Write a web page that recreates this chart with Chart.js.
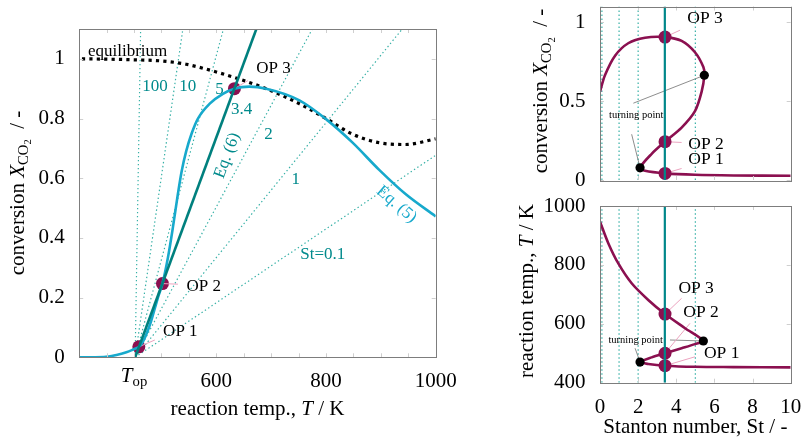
<!DOCTYPE html>
<html><head><meta charset="utf-8">
<script src="https://cdn.jsdelivr.net/npm/chart.js@4.4.0/dist/chart.umd.min.js"></script>
<style>
html,body{margin:0;padding:0;background:#fff;width:809px;height:444px;overflow:hidden}
.box{position:absolute}
</style></head><body>
<div class="box" style="left:0;top:0"><canvas id="c1" width="490" height="444"></canvas></div>
<div class="box" style="left:500px;top:0"><canvas id="c2" width="309" height="195"></canvas></div>
<div class="box" style="left:500px;top:195px"><canvas id="c3" width="309" height="249"></canvas></div>
<script>
// ---------------- DATA ----------------
// Left chart: conversion vs reaction temperature
const T0 = 452;                                   // common origin of the St lines (T_op)
const stNamesLeft = ['100', '10', '5', '2', '1', 'St=0.1'];
const stEndT = [462, 539, 613, 775, 939, 1000];
const stEndX = [1.1, 1.1, 1.1, 1.1, 1.1, 0.677];
const eq6T = [452, 673];
const eq6X = [0, 1.1];
const eq5T = [350, 395, 418, 436, 446, 452, 458.7, 466, 473, 480, 488, 495, 501.8, 512, 521, 530, 537, 545, 555, 566.5, 588, 612, 633, 660, 691, 751.5, 800, 848, 897, 945, 1000];
const eq5X = [0, 0.001, 0.008, 0.017, 0.024, 0.029, 0.035, 0.052, 0.080, 0.115, 0.165, 0.208, 0.247, 0.336, 0.437, 0.548, 0.625, 0.69, 0.75, 0.80, 0.85, 0.883, 0.90, 0.907, 0.90, 0.861, 0.798, 0.72, 0.628, 0.547, 0.472];
const eqT = [355, 400, 446, 500, 545, 600, 642, 691, 751, 800, 848, 897, 945, 1000];
const eqX = [1.0, 0.999, 0.997, 0.993, 0.982, 0.956, 0.932, 0.90, 0.85, 0.80, 0.748, 0.719, 0.713, 0.732];
const opT = [458.7, 501.8, 633];
const opX = [0.035, 0.247, 0.90];
const opLeadT = [488, 530, 657.5];
const opLeadX = [0.058, 0.245, 0.927];
const leftXTicks = [350, 400, 450, 500, 550, 600, 650, 700, 750, 800, 850, 900, 950, 1000];
const leftXLabeled = [600, 800, 1000];
const leftYTicks = [0, 0.2, 0.4, 0.6, 0.8, 1];

// Right charts: vs Stanton number
const stVLines = [0.1, 1, 2, 5];
const stDesign = 3.4;
const stX = [0, 0.26, 0.79, 1.48, 2.36, 3.41, 4.28, 4.98, 5.42, 5.47, 5.33, 4.98, 4.28, 3.41, 2.71, 2.10, 2.36, 3.41, 4.98, 7, 10];
const xSt = [0.56, 0.664, 0.788, 0.867, 0.902, 0.906, 0.882, 0.81, 0.716, 0.664, 0.56, 0.436, 0.332, 0.243, 0.166, 0.077, 0.058, 0.042, 0.033, 0.029, 0.027];
const stT = [0, 0.44, 0.96, 1.66, 2.53, 3.41, 4.46, 5.42, 4.98, 4.28, 3.41, 2.71, 2.10, 2.53, 3.41, 4.98, 7, 10];
const tSt = [947, 873, 805, 737.6, 681, 633, 585, 541.6, 531, 517, 500, 486, 470, 463.5, 457.7, 454, 453, 452];
const opSt = [3.41, 3.41, 3.41];
const opXr = [0.042, 0.243, 0.906];
const opTr = [457.7, 500, 633];
const tpSt = [5.47, 2.10];
const tpX = [0.664, 0.077];
const tpStT = [5.42, 2.10];
const tpT = [541.6, 470];
const opLeadStTop = [4.28, 4.28, 4.2];
const opLeadXTop = [0.073, 0.238, 0.95];
const opLeadStBot = [4.98, 4.72, 4.28];
const opLeadTBot = [488, 601.7, 686.6];
const tpLeadStTop = [1.75, 1.66];
const tpLeadXTop = [0.487, 0.29];
const tpLeadStBot = [3.67, 1.84];
const tpLeadTBot = [545, 517];
const rightXTicks = [0, 2, 4, 6, 8, 10];
const topYTicks = [0, 0.5, 1];
const botYTicks = [400, 600, 800, 1000];

// ---------------- STYLE ----------------
const FONT = '"Liberation Serif","Times New Roman",serif';
const TEAL = '#00878a', TEAL_DOT = '#36b0a6', CYAN = '#17a9cc', PURPLE = '#8b1050', PINK = '#eba3bf', TEAL_TXT = '#008a8c';
Chart.defaults.font.family = FONT;
Chart.defaults.color = '#000';

function pts(xs, ys) { return xs.map((x, i) => ({x: x, y: ys[i]})); }
function seg(x1, y1, x2, y2, color, width, dash, order) {
  return {data: [{x: x1, y: y1}, {x: x2, y: y2}], borderColor: color, borderWidth: width,
    borderDash: dash || [], pointRadius: 0, fill: false, tension: 0, order: order};
}

function drawRich(ctx, parts, x, y, o) {
  if (typeof parts === 'string') parts = [{t: parts}];
  const size = o.size || 17;
  const fontOf = p => (p.i ? 'italic ' : '') + (p.sub === 1 ? size * 0.7 : p.sub === 2 ? size * 0.5 : size) + 'px ' + FONT;
  const dyOf = p => p.sub === 1 ? size * 0.2 : p.sub === 2 ? size * 0.36 : 0;
  ctx.save();
  let total = 0;
  const w = parts.map(p => { ctx.font = fontOf(p); const m = ctx.measureText(p.t).width; total += m; return m; });
  ctx.translate(x, y);
  if (o.rot) ctx.rotate(o.rot * Math.PI / 180);
  let cx = o.align === 'left' ? 0 : o.align === 'right' ? -total : -total / 2;
  const by = o.vmid ? size * 0.33 : 0;
  ctx.fillStyle = o.color || '#000';
  ctx.textBaseline = 'alphabetic';
  ctx.textAlign = 'left';
  parts.forEach((p, i) => { ctx.font = fontOf(p); ctx.fillText(p.t, cx, by + dyOf(p)); cx += w[i]; });
  ctx.restore();
}

const deco = {
  id: 'deco',
  afterDatasetsDraw(chart, args, o) {
    const ctx = chart.ctx, ca = chart.chartArea, xs = chart.scales.x, ys = chart.scales.y;
    ctx.save();
    ctx.strokeStyle = '#cfcfcf'; ctx.lineWidth = 1;
    ctx.beginPath();
    xs.ticks.forEach(t => {
      const p = Math.round(xs.getPixelForValue(t.value)) + 0.5;
      ctx.moveTo(p, ca.bottom); ctx.lineTo(p, ca.bottom - 4);
      ctx.moveTo(p, ca.top); ctx.lineTo(p, ca.top + 4);
    });
    ys.ticks.forEach(t => {
      const p = Math.round(ys.getPixelForValue(t.value)) + 0.5;
      ctx.moveTo(ca.left, p); ctx.lineTo(ca.left + 4, p);
      ctx.moveTo(ca.right, p); ctx.lineTo(ca.right - 4, p);
    });
    ctx.stroke();
    ctx.strokeStyle = '#7d7d7d'; ctx.lineWidth = 1;
    ctx.strokeRect(Math.round(ca.left) + 0.5, Math.round(ca.top) + 0.5, Math.round(ca.right - ca.left), Math.round(ca.bottom - ca.top));
    (o.texts || []).forEach(t => drawRich(ctx, t.parts, xs.getPixelForValue(t.x), ys.getPixelForValue(t.y), t));
    (o.xLabels || []).forEach(t => drawRich(ctx, t.parts, xs.getPixelForValue(t.x), ca.bottom + t.dy, t));
    (o.titles || []).forEach(t => drawRich(ctx, t.parts, t.px, t.py, t));
    ctx.restore();
  }
};

function axes(xmin, xmax, xt, xLab, ymin, ymax, yt, yLab, yW, xH) {
  return {
    x: {type: 'linear', min: xmin, max: xmax,
      afterBuildTicks: s => { s.ticks = xt.map(v => ({value: v})); },
      ticks: {display: xLab !== null, font: {size: 21}, padding: 4, maxRotation: 0, autoSkip: false,
        callback: v => (xLab && xLab.includes(v)) ? String(v) : ''},
      grid: {display: false}, border: {display: false},
      afterFit: s => { s.height = xH; s.paddingLeft = 0; s.paddingRight = 0; }},
    y: {type: 'linear', min: ymin, max: ymax,
      afterBuildTicks: s => { s.ticks = yt.map(v => ({value: v})); },
      ticks: {font: {size: 21}, padding: 6.5, autoSkip: false, callback: v => String(v)},
      grid: {display: false}, border: {display: false},
      afterFit: s => { s.width = yW; s.paddingTop = 0; s.paddingBottom = 0; }}
  };
}
const base = {responsive: false, animation: false, events: [], devicePixelRatio: 1};

// ---------------- LEFT CHART ----------------
const leftSets = [];
leftSets.push({data: pts(eq6T, eq6X), borderColor: '#00807e', borderWidth: 2.6, pointRadius: 0, tension: 0, order: 1});
leftSets.push({data: pts(eq5T, eq5X), borderColor: CYAN, borderWidth: 2.6, pointRadius: 0, cubicInterpolationMode: 'monotone', order: 2});
leftSets.push({data: pts(eqT, eqX), borderColor: '#000', borderWidth: 3.2, borderDash: [3.2, 4.2], pointRadius: 0, cubicInterpolationMode: 'monotone', order: 3});
opT.forEach((t, i) => leftSets.push(seg(t, opX[i], opLeadT[i], opLeadX[i], PINK, 1, null, 5)));
leftSets.push({data: pts(opT, opX), showLine: false, pointRadius: 6.5, pointBackgroundColor: PURPLE, pointBorderWidth: 0, order: 6});
stEndT.forEach((t, i) => leftSets.push(seg(T0, 0, t, stEndX[i], TEAL_DOT, 1.2, [1.4, 2.6], 8)));

const stLabelPos = [[488, 0.911], [548, 0.911], [606, 0.90], [695, 0.75], [745, 0.60], [794, 0.349]];
const leftTexts = [
  {x: 366, y: 1.028, parts: 'equilibrium', size: 17, align: 'left', vmid: true},
  {x: 646, y: 0.834, parts: '3.4', size: 17, vmid: true, color: TEAL_TXT},
  {x: 618, y: 0.677, parts: 'Eq. (6)', size: 17, vmid: true, rot: -69.7, color: TEAL_TXT},
  {x: 930, y: 0.515, parts: 'Eq. (5)', size: 17, vmid: true, rot: 41, color: CYAN},
  {x: 672.7, y: 0.971, parts: 'OP 3', size: 17, align: 'left', vmid: true},
  {x: 545.5, y: 0.242, parts: 'OP 2', size: 17, align: 'left', vmid: true},
  {x: 503, y: 0.0916, parts: 'OP 1', size: 17, align: 'left', vmid: true}
];
stNamesLeft.forEach((n, i) => leftTexts.push({x: stLabelPos[i][0], y: stLabelPos[i][1], parts: n, size: 17, vmid: true, color: TEAL_TXT}));

new Chart(document.getElementById('c1'), {
  type: 'line',
  data: {datasets: leftSets},
  options: Object.assign({}, base, {
    layout: {padding: {top: 29, right: 54.3, left: 0, bottom: 0}},
    scales: axes(350, 1000, leftXTicks, leftXLabeled, 0, 1.1, leftYTicks, null, 79.2, 86.7),
    plugins: {legend: {display: false}, tooltip: {enabled: false},
      deco: {
        texts: leftTexts,
        xLabels: [{x: 450, dy: 24.2, parts: [{t: 'T', i: true}, {t: 'op', sub: 1}], size: 21}],
        titles: [
          {px: 257.5, py: 415, size: 21, parts: [{t: 'reaction temp., '}, {t: 'T', i: true}, {t: ' / K'}]},
          {px: 23.5, py: 193, size: 21, rot: -90, parts: [{t: 'conversion '}, {t: 'X', i: true}, {t: 'CO', sub: 1}, {t: '2', sub: 2}, {t: '  / -'}]}
        ]}}
  }),
  plugins: [deco]
});

// ---------------- RIGHT CHARTS ----------------
function rightSets(curveX, curveY, opY, tpXs, tpYs, leadX, leadY, tLeadX, tLeadY, ymin, ymax) {
  const s = [];
  s.push(seg(stDesign, ymin, stDesign, ymax, TEAL, 2.2, null, 1));
  s.push({data: pts(tpXs, tpYs), showLine: false, pointRadius: 4.6, pointBackgroundColor: '#000', pointBorderWidth: 0, order: 2});
  s.push({data: pts(opSt, opY), showLine: false, pointRadius: 6.5, pointBackgroundColor: PURPLE, pointBorderWidth: 0, order: 3});
  s.push({data: pts(curveX, curveY), borderColor: PURPLE, borderWidth: 2.6, pointRadius: 0, tension: 0.3, order: 4});
  opSt.forEach((st, i) => s.push(seg(st, opY[i], leadX[i], leadY[i], PINK, 1, null, 5)));
  tpXs.forEach((st, i) => s.push(seg(tLeadX[i], tLeadY[i], st, tpYs[i], '#707070', 0.8, null, 5)));
  stVLines.forEach(v => s.push(seg(v, ymin, v, ymax, TEAL_DOT, 1.2, [1.4, 2.6], 8)));
  return s;
}

new Chart(document.getElementById('c2'), {
  type: 'line',
  data: {datasets: rightSets(stX, xSt, opXr, tpSt, tpX, opLeadStTop, opLeadXTop, tpLeadStTop, tpLeadXTop, 0, 1.1)},
  options: Object.assign({}, base, {
    layout: {padding: {top: 3.3, right: 18.3, left: 0, bottom: 0}},
    scales: axes(0, 10, rightXTicks, null, 0, 1.1, topYTicks, null, 100, 15),
    plugins: {legend: {display: false}, tooltip: {enabled: false},
      deco: {
        texts: [
          {x: 4.58, y: 1.033, parts: 'OP 3', size: 17.5, align: 'left', vmid: true},
          {x: 4.63, y: 0.232, parts: 'OP 2', size: 17.5, align: 'left', vmid: true},
          {x: 4.63, y: 0.135, parts: 'OP 1', size: 17.5, align: 'left', vmid: true},
          {x: 0.47, y: 0.415, parts: 'turning point', size: 10.5, align: 'left', vmid: true}
        ],
        titles: [
          {px: 47, py: 91, size: 21, rot: -90, parts: [{t: 'conversion '}, {t: 'X', i: true}, {t: 'CO', sub: 1}, {t: '2', sub: 2}, {t: '  / -'}]}
        ]}}
  }),
  plugins: [deco]
});

new Chart(document.getElementById('c3'), {
  type: 'line',
  data: {datasets: rightSets(stT, tSt, opTr, tpStT, tpT, opLeadStBot, opLeadTBot, tpLeadStBot, tpLeadTBot, 400, 1000)},
  options: Object.assign({}, base, {
    layout: {padding: {top: 11, right: 18.3, left: 0, bottom: 0}},
    scales: axes(0, 10, rightXTicks, rightXTicks, 400, 1000, botYTicks, null, 100, 61.3),
    plugins: {legend: {display: false}, tooltip: {enabled: false},
      deco: {
        texts: [
          {x: 4.11, y: 724, parts: 'OP 3', size: 17.5, align: 'left', vmid: true},
          {x: 4.37, y: 643.5, parts: 'OP 2', size: 17.5, align: 'left', vmid: true},
          {x: 5.45, y: 503, parts: 'OP 1', size: 17.5, align: 'left', vmid: true},
          {x: 0.44, y: 547, parts: 'turning point', size: 10.5, align: 'left', vmid: true}
        ],
        titles: [
          {px: 195.4, py: 238, size: 21, parts: [{t: 'Stanton number, St / -'}]},
          {px: 33, py: 96, size: 21, rot: -90, parts: [{t: 'reaction temp., '}, {t: 'T', i: true}, {t: ' / K'}]}
        ]}}
  }),
  plugins: [deco]
});
</script>
</body></html>
